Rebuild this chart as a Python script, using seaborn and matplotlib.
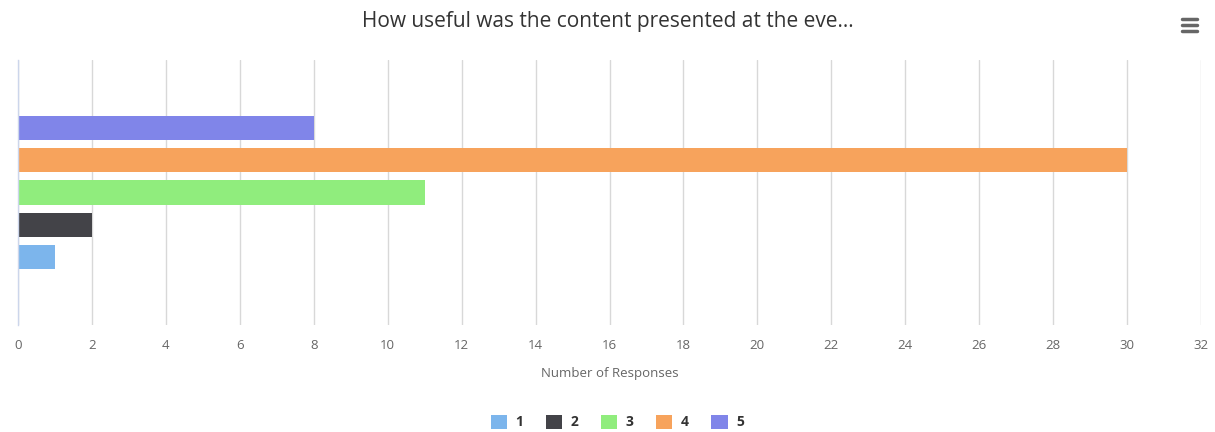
import matplotlib
matplotlib.use("Agg")
import matplotlib.pyplot as plt
import seaborn as sns
import pandas as pd
from matplotlib.patches import Patch
from matplotlib.lines import Line2D

# Data
ratings = ["1", "2", "3", "4", "5"]
responses = [1, 2, 11, 30, 8]
colors = ["#7cb5ec", "#434348", "#90ed7d", "#f7a35c", "#8085e9"]
title = "How useful was the content presented at the eve..."
x_ticks = list(range(0, 33, 2))

sns.set_theme(style="white")
plt.rcParams["font.family"] = ["Open Sans", "DejaVu Sans"]

df = pd.DataFrame({"question": [""] * len(ratings), "rating": ratings, "count": responses})
palette = dict(zip(ratings, colors))

fig = plt.figure(figsize=(12.15, 4.32), dpi=100)
ax = fig.add_axes([18 / 1215, 1 - 325 / 432, (1201 - 18) / 1215, (325 - 60) / 432])

sns.barplot(
    data=df, x="count", y="question", hue="rating",
    hue_order=ratings[::-1], palette=palette, orient="h",
    width=0.604, gap=0.25, saturation=1, legend=False, ax=ax,
    linewidth=0,
)

ax.set_xlim(0, 32)
ax.set_ylim(0.5, -0.5)
ax.set_xticks(x_ticks)
ax.set_xticklabels([str(t) for t in x_ticks], color="#666666", fontsize=9.5)
ax.set_yticks([])
ax.set_ylabel("")
ax.set_xlabel("Number of Responses", color="#666666", fontsize=9.5, labelpad=11)
ax.tick_params(axis="x", length=0, pad=10)
ax.xaxis.grid(True, color="#d8d8d8", linewidth=1)
ax.set_axisbelow(True)
for side in ["top", "right", "bottom"]:
    ax.spines[side].set_visible(False)
ax.spines["left"].set_color("#ccd6eb")
ax.spines["left"].set_linewidth(1)

fig.text(0.5, 1 - 21 / 432, title, ha="center", va="center", fontsize=15, color="#333333")

# Legend in original order
handles = [Patch(facecolor=c, edgecolor="none") for c in colors]
fig.legend(
    handles, ratings, loc="center", bbox_to_anchor=(0.508, 1 - 422 / 432),
    ncol=5, frameon=False, handlelength=1.2, handleheight=1.2,
    columnspacing=1.6, handletextpad=0.6,
    prop={"weight": "bold", "size": 10},
    labelcolor="#333333",
)

# Menu icon
for yy in [19, 25, 31]:
    fig.add_artist(Line2D([1182 / 1215, 1197 / 1215], [1 - yy / 432] * 2,
                          color="#666666", linewidth=2.5, solid_capstyle="round"))

fig.savefig("out.png", dpi=100)
